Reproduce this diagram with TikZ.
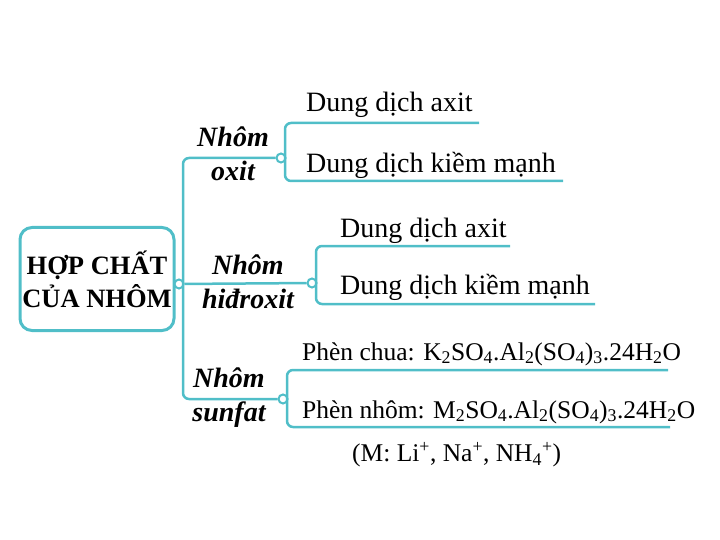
\documentclass[tikz,border=0pt]{standalone}
\usepackage{fontspec}
\setmainfont{Liberation Serif}
\usetikzlibrary{positioning}
\definecolor{teal1}{RGB}{80,190,200}

\tikzset{
    rootbox/.style={draw=teal1, line width=3pt, rounded corners=12pt,
        minimum width=154pt, minimum height=103pt, align=center, inner sep=0pt,
        font=\fontsize{26.5}{33}\selectfont\bfseries},
    branch/.style={align=center, inner sep=0pt,
        font=\fontsize{28}{34}\selectfont\bfseries\itshape},
    leaf/.style={anchor=west, inner sep=0pt, font=\fontsize{28}{30}\selectfont},
    chem/.style={leaf, font=\fontsize{25.5}{28}\selectfont},
    knot/.style={circle, draw=teal1, fill=white, line width=2pt,
        minimum size=9pt, inner sep=0pt},
    link/.style={draw=teal1, line width=2.5pt, rounded corners=6pt}
}

\begin{document}
\begin{tikzpicture}[x=1pt, y=-1pt]
    \useasboundingbox (0,0) rectangle (720,540);

    % root
    \node[rootbox] (root) at (97,279) {HỢP CHẤT\\CỦA NHÔM};
    \node[knot] (r_k) at (179,284) {};

    % branches
    \node[branch] (b_1) at (233,154) {Nhôm\\oxit};
    \node[branch] (b_2) at (248,282) {Nhôm\\hiđroxit};
    \node[branch] (b_3) at (229,398) {Nhôm\\sunfat};
    \node[knot] (k_1) at (281,158) {};
    \node[knot] (k_2) at (312,283) {};
    \node[knot] (k_3) at (283,399) {};

    % leaves
    \node[leaf] (l_1) at (306,105) {Dung dịch axit};
    \node[leaf] (l_2) at (306,165) {Dung dịch kiềm mạnh};
    \node[leaf] (l_3) at (340,231) {Dung dịch axit};
    \node[leaf] (l_4) at (340,287) {Dung dịch kiềm mạnh};
    \node[chem] (l_5) at (302,354)
        {Phèn chua: K\textsubscript{2}SO\textsubscript{4}.Al\textsubscript{2}(SO\textsubscript{4})\textsubscript{3}.24H\textsubscript{2}O};
    \node[chem] (l_6) at (302,412)
        {Phèn nhôm: M\textsubscript{2}SO\textsubscript{4}.Al\textsubscript{2}(SO\textsubscript{4})\textsubscript{3}.24H\textsubscript{2}O};
    \node[chem] (l_7) at (352,455)
        {(M: Li\textsuperscript{+}, Na\textsuperscript{+}, NH\textsubscript{4}\textsuperscript{+})};

    % underline ends
    \coordinate (u_1) at (479,123);
    \coordinate (u_2) at (563,181);
    \coordinate (u_3) at (510,246);
    \coordinate (u_4) at (595,304);
    \coordinate (u_5) at (668,370);
    \coordinate (u_6) at (670,427);

    % trunk
    \draw[link] (k_1) -- (183,158) -- (183,399) -- (k_3);
    \draw[link] (r_k) -- (k_2);

    % brackets
    \draw[link] (u_1) -- (285,123) -- (285,181) -- (u_2);
    \draw[link] (u_3) -- (316,246) -- (316,304) -- (u_4);
    \draw[link] (u_5) -- (287,370) -- (287,427) -- (u_6);
\end{tikzpicture}
\end{document}
